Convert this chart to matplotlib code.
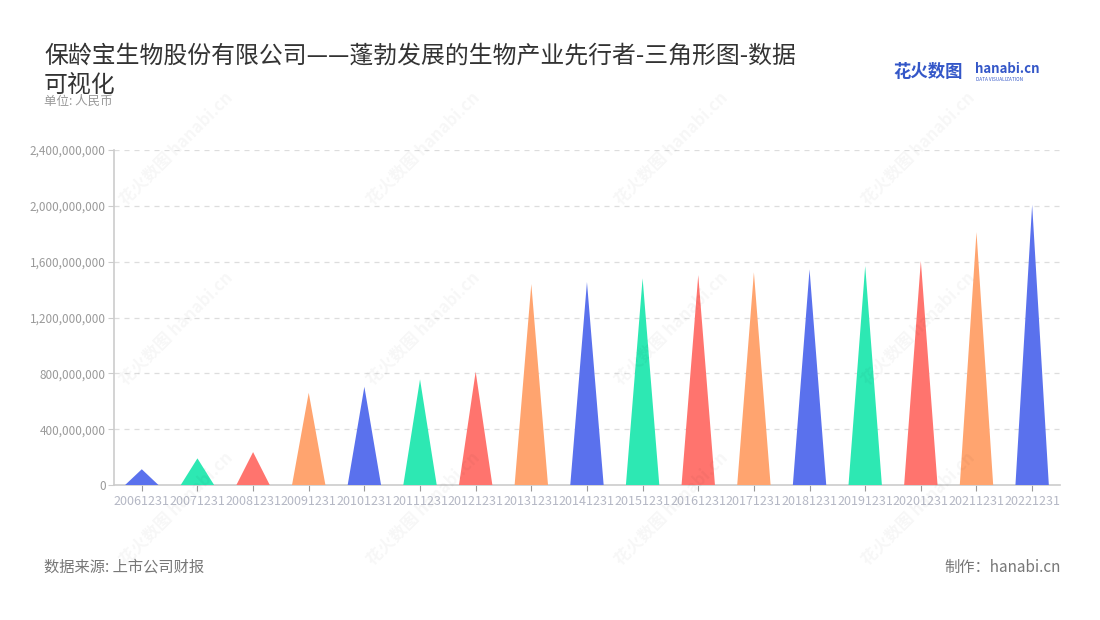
import matplotlib
matplotlib.use('Agg')
import matplotlib.pyplot as plt
import numpy as np

plt.rcParams['font.family'] = ['Noto Sans CJK SC', 'DejaVu Sans']

# data (人民币)
years = ['20061231', '20071231', '20081231', '20091231', '20101231', '20111231',
         '20121231', '20131231', '20141231', '20151231', '20161231', '20171231',
         '20181231', '20191231', '20201231', '20211231', '20221231']
values = [113e6, 191e6, 236e6, 661e6, 704e6, 757e6, 812e6, 1440e6, 1454e6,
          1481e6, 1504e6, 1524e6, 1545e6, 1569e6, 1605e6, 1812e6, 2008e6]
palette = ['#5a71ed', '#2de8b3', '#ff746e', '#ffa46f']
yticks = [0, 400e6, 800e6, 1200e6, 1600e6, 2000e6, 2400e6]

fig = plt.figure(figsize=(11, 6.2), dpi=100)
ax = fig.add_axes([0.1036, 0.2177, 0.86, 0.5403])

# triangles
half = 0.3
for i, v in enumerate(values):
    ax.fill([i - half, i, i + half], [0, v, 0], color=palette[i % 4], lw=0, zorder=3)

ax.set_xlim(-0.5, len(years) - 0.5)
ax.set_ylim(0, 2400e6)
ax.set_xticks(range(len(years)))
ax.set_xticklabels(years, fontsize=9, color='#b4b7c4')
ax.set_yticks(yticks)
ax.set_yticklabels(['{:,}'.format(int(t)) for t in yticks], fontsize=8.5, color='#9a9a9a')
ax.tick_params(axis='x', length=4, color='#999999', pad=3)
ax.tick_params(axis='y', length=4, color='#cccccc', pad=2)
for t in yticks[1:]:
    ax.axhline(t, color='#dddddd', lw=0.9, ls=(0, (4, 4)), zorder=1)
for s in ['top', 'right']:
    ax.spines[s].set_visible(False)
ax.spines['left'].set_color('#cccccc')
ax.spines['bottom'].set_color('#cccccc')
ax.spines['left'].set_linewidth(1.2)
ax.spines['bottom'].set_linewidth(1.2)

# watermarks
for wx in [0.16, 0.385, 0.61, 0.835]:
    for wy in [0.76, 0.47, 0.18]:
        fig.text(wx, wy, '花火数图 hanabi.cn', fontsize=12, color='#000000', alpha=0.035,
                 rotation=45, ha='center', va='center', fontweight='bold')

# title
fig.text(0.04, 0.928, '保龄宝生物股份有限公司——蓬勃发展的生物产业先行者-三角形图-数据\n可视化',
         fontsize=17.2, color='#333333', ha='left', va='top', linespacing=1.33)
fig.text(0.04, 0.836, '单位: 人民币', fontsize=9, color='#999999', ha='left', va='center')

# logo
fig.text(0.812, 0.884, '花火数图', fontsize=12.5, color='#3457c8', fontweight='bold', ha='left', va='center')
fig.text(0.886, 0.889, 'hanabi.cn', fontsize=9.5, color='#3457c8', fontweight='bold', ha='left', va='center')
fig.text(0.887, 0.871, 'DATA VISUALIZATION', fontsize=3.4, color='#3457c8', ha='left', va='center')

# footer
fig.text(0.04, 0.085, '数据来源: 上市公司财报', fontsize=11, color='#777777', ha='left', va='center')
fig.text(0.964, 0.085, '制作：hanabi.cn', fontsize=11, color='#777777', ha='right', va='center')

fig.savefig('out.png', dpi=100, facecolor='white')
